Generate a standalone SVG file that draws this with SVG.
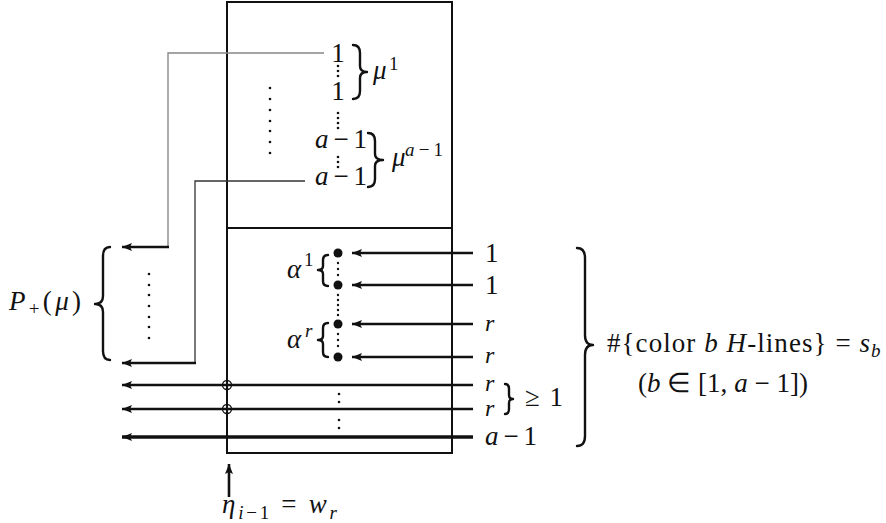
<svg xmlns="http://www.w3.org/2000/svg" width="886" height="523" viewBox="0 0 886 523">
<defs>
<marker id="ah" markerUnits="userSpaceOnUse" markerWidth="12" markerHeight="8" refX="10" refY="4" orient="auto">
<path d="M0,0 L10,4 L0,8 L2,4 z" fill="#111"/>
</marker>
<style>
text{font-family:"Liberation Serif","Times New Roman",serif;font-size:27px;fill:#111}
.it{font-style:italic}
.sm{font-size:19px}
.rl{font-size:24px;font-style:italic}
.box{fill:none;stroke:#111;stroke-width:2}
.thk{fill:none;stroke:#111;stroke-width:2.6}
.thk2{fill:none;stroke:#111;stroke-width:3.6}
.grey{fill:none;stroke:#888;stroke-width:1.4}
.dark{fill:none;stroke:#333;stroke-width:1.3}
.brace{fill:none;stroke:#111;stroke-width:2.4;stroke-linecap:round;stroke-linejoin:round}
.dot{fill:#111}
</style>
</defs>
<rect width="886" height="523" fill="#fff"/>

<g id="upper-box">
<rect class="box" x="227" y="2" width="225" height="226"/>
<text x="338" y="62" text-anchor="middle">1</text>
<g class="dot"><circle cx="338" cy="66" r="1.3"/><circle cx="338" cy="71" r="1.3"/><circle cx="338" cy="76" r="1.3"/></g>
<text x="338" y="100" text-anchor="middle">1</text>
<g class="dot"><circle cx="338" cy="113" r="1.3"/><circle cx="338" cy="118" r="1.3"/><circle cx="338" cy="123" r="1.3"/><circle cx="338" cy="128" r="1.3"/></g>
<text x="315" y="148" textLength="52" lengthAdjust="spacing"><tspan class="it">a</tspan>−1</text>
<g class="dot"><circle cx="338" cy="157" r="1.3"/><circle cx="338" cy="162" r="1.3"/><circle cx="338" cy="167" r="1.3"/></g>
<text x="315" y="185" textLength="52" lengthAdjust="spacing"><tspan class="it">a</tspan>−1</text>
<path class="brace" d="M353,45 Q360,45 360,53 L360,66 Q360,72 367,72 Q360,72 360,78 L360,91 Q360,99 353,99"/>
<text x="373" y="79" class="it">μ</text><text x="389" y="70" class="sm">1</text>
<path class="brace" d="M368,133 Q375,133 375,141 L375,154 Q375,160 383,160 Q375,160 375,166 L375,179 Q375,187 368,187"/>
<text x="392" y="166" class="it">μ</text><text x="405" y="156" class="sm" textLength="38" lengthAdjust="spacing"><tspan class="it">a</tspan>−1</text>
<g class="dot"><circle cx="270" cy="88" r="1.3"/><circle cx="270" cy="99" r="1.3"/><circle cx="270" cy="110" r="1.3"/><circle cx="270" cy="121" r="1.3"/><circle cx="270" cy="131" r="1.3"/><circle cx="270" cy="142" r="1.3"/><circle cx="270" cy="153" r="1.3"/></g>
</g>

<g id="lower-box">
<rect class="box" x="227" y="228" width="225" height="225"/>
<g class="dot"><circle cx="338" cy="253" r="4.5"/><circle cx="338" cy="285" r="4.5"/><circle cx="338" cy="324" r="4.5"/><circle cx="338" cy="357" r="4.5"/></g>
<g class="dot"><circle cx="338" cy="263" r="1.2"/><circle cx="338" cy="269" r="1.2"/><circle cx="338" cy="275" r="1.2"/>
<circle cx="338" cy="295" r="1.2"/><circle cx="338" cy="300" r="1.2"/><circle cx="338" cy="305" r="1.2"/><circle cx="338" cy="310" r="1.2"/><circle cx="338" cy="315" r="1.2"/>
<circle cx="338" cy="334" r="1.2"/><circle cx="338" cy="340" r="1.2"/><circle cx="338" cy="346" r="1.2"/>
<circle cx="339" cy="394" r="1.3"/><circle cx="339" cy="402" r="1.3"/><circle cx="339" cy="420" r="1.3"/><circle cx="339" cy="428" r="1.3"/></g>
<text x="287" y="278" class="it">α</text><text x="304" y="266" class="sm">1</text>
<path class="brace" d="M328,255 Q323,255 323,260 L323,266 Q323,270 318,270 Q323,270 323,274 L323,281 Q323,286 328,286"/>
<text x="287" y="348" class="it">α</text><text x="305" y="337" class="sm it">r</text>
<path class="brace" d="M328,323 Q323,323 323,328 L323,336 Q323,340 318,340 Q323,340 323,344 L323,352 Q323,357 328,357"/>
</g>

<g id="left-label">
<path class="brace" d="M110,247 Q103,247 103,256 L103,296 Q103,304 95,304 Q103,304 103,312 L103,351 Q103,360 110,360"/>
<text x="9" y="310" textLength="72" lengthAdjust="spacing"><tspan class="it">P</tspan><tspan class="sm" dy="5">+</tspan><tspan dy="-5">(</tspan><tspan class="it">μ</tspan>)</text>
<g class="dot"><circle cx="149" cy="274" r="1.3"/><circle cx="149" cy="285" r="1.3"/><circle cx="149" cy="295" r="1.3"/><circle cx="149" cy="306" r="1.3"/><circle cx="149" cy="317" r="1.3"/><circle cx="149" cy="327" r="1.3"/><circle cx="149" cy="338" r="1.3"/></g>
</g>

<g id="right-labels">
<text x="485" y="262">1</text>
<text x="485" y="294">1</text>
<text x="485" y="331" class="rl">r</text>
<text x="485" y="363" class="rl">r</text>
<text x="485" y="391" class="rl">r</text>
<text x="485" y="416" class="rl">r</text>
<text x="485" y="445" textLength="52" lengthAdjust="spacing"><tspan class="it">a</tspan>−1</text>
<path class="brace" d="M505,384 Q509,384 509,389 L509,395 Q509,399 513,399 Q509,399 509,403 L509,409 Q509,414 505,414"/>
<text x="525" y="406" textLength="38" lengthAdjust="spacing">≥ 1</text>
<path class="brace" d="M577,248 Q585,248 585,258 L585,335 Q585,345 593,345 Q585,345 585,355 L585,436 Q585,446 577,446"/>
<text x="607" y="352" textLength="263" lengthAdjust="spacing">#{color <tspan class="it">b</tspan> <tspan class="it">H</tspan>-lines} = <tspan class="it">s</tspan></text>
<text x="871" y="357" class="sm it">b</text>
<text x="638" y="392" textLength="170" lengthAdjust="spacing">(<tspan class="it">b</tspan> ∈ [1, <tspan class="it">a</tspan> − 1])</text>
</g>

<g id="bottom-label">
<text x="222" y="513" textLength="115" lengthAdjust="spacing"><tspan class="it">η</tspan><tspan class="sm" dy="6"><tspan class="it">i</tspan>−1</tspan><tspan dy="-6"> = </tspan><tspan class="it">w</tspan><tspan class="sm it" dy="6">r</tspan></text>
</g>

<g id="connectors">
<path class="grey" d="M324,53 H168 V247"/>
<path class="thk" d="M169,247 H122" marker-end="url(#ah)"/>
<path class="dark" d="M305,181 H195 V363"/>
<path class="thk" d="M196,363 H122" marker-end="url(#ah)"/>
<path class="thk" d="M473,253 H352" marker-end="url(#ah)"/>
<path class="thk" d="M473,285 H352" marker-end="url(#ah)"/>
<path class="thk" d="M473,324 H352" marker-end="url(#ah)"/>
<path class="thk" d="M473,357 H352" marker-end="url(#ah)"/>
<path class="thk" d="M473,385 H122" marker-end="url(#ah)"/>
<path class="thk" d="M473,409 H122" marker-end="url(#ah)"/>
<path class="thk2" d="M473,437 H122" marker-end="url(#ah)"/>
<circle cx="227" cy="385" r="4.5" fill="none" stroke="#111" stroke-width="1.3"/>
<circle cx="227" cy="409" r="4.5" fill="none" stroke="#111" stroke-width="1.3"/>
<path class="thk" d="M229,497 V464" marker-end="url(#ah)"/>
</g>
</svg>
